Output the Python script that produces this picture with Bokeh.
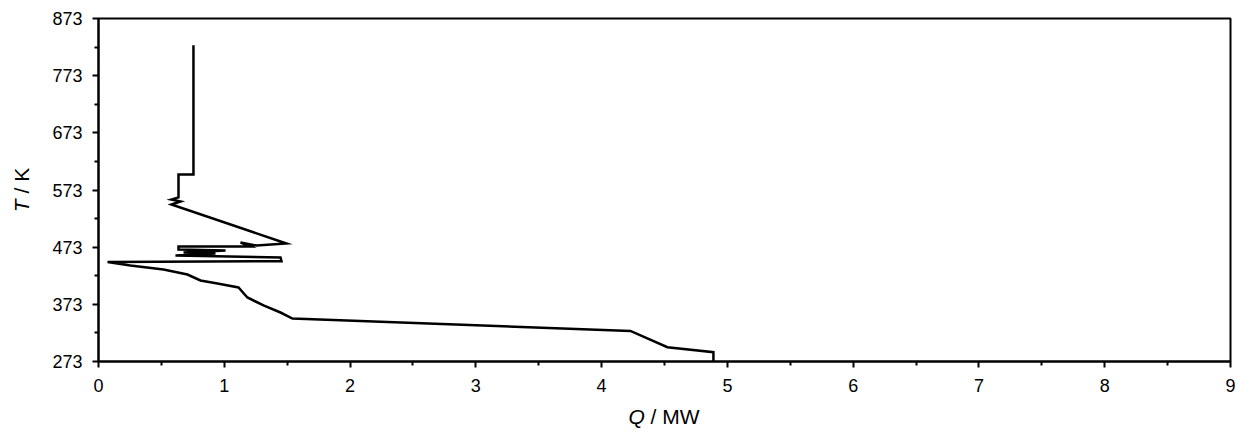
from bokeh.plotting import figure
from bokeh.models import FixedTicker, Range1d, Div
from bokeh.layouts import row, column
from bokeh.embed import file_html
from bokeh.resources import INLINE

# Composite curve: heat flow Q (MW) vs temperature T (K)
Q_MW = [0.755, 0.755, 0.636, 0.636, 0.580, 0.652, 0.580, 1.494, 1.256, 1.129,
        1.208, 0.636, 0.636, 1.010, 0.676, 0.930, 0.612, 1.447, 1.455, 0.072,
        0.254, 0.517, 0.707, 0.811, 0.946, 1.113, 1.184, 1.312, 1.447, 1.542,
        4.229, 4.523, 4.889, 4.889]
T_K = [826.0, 600.0, 600.0, 560.0, 556.4, 552.9, 547.7, 479.4, 475.9, 481.2,
       474.2, 474.2, 468.9, 467.2, 463.7, 461.9, 458.4, 455.0, 448.5, 447.1,
       441.0, 434.0, 425.2, 414.7, 409.5, 402.5, 385.0, 371.0, 358.7, 348.2,
       326.4, 298.0, 289.3, 273.0]

x_major = [0, 1, 2, 3, 4, 5, 6, 7, 8, 9]
x_minor = [0.5, 1.5, 2.5, 3.5, 4.5, 5.5, 6.5, 7.5, 8.5]
y_major = [273, 373, 473, 573, 673, 773, 873]
y_minor = [323, 423, 523, 623, 723, 823]

FONT = "Liberation Sans"

p = figure(frame_width=1132, frame_height=343, output_backend="svg",
           toolbar_location=None, x_range=Range1d(0, 9), y_range=Range1d(273, 873))
p.min_border_left = 58
p.min_border_right = 12
p.min_border_top = 18
p.min_border_bottom = 40
p.margin = 0
p.background_fill_color = "white"
p.border_fill_color = "white"
p.outline_line_color = "black"
p.outline_line_width = 2
p.xgrid.visible = False
p.ygrid.visible = False

p.line(Q_MW, T_K, line_color="black", line_width=2.5, line_join="miter")

p.xaxis.ticker = FixedTicker(ticks=x_major, minor_ticks=x_minor)
p.yaxis.ticker = FixedTicker(ticks=y_major, minor_ticks=y_minor)
for ax in (p.xaxis, p.yaxis):
    ax.axis_line_width = 2
    ax.axis_line_color = "black"
    ax.major_tick_line_width = 2
    ax.minor_tick_line_width = 2
    ax.major_tick_line_color = "black"
    ax.minor_tick_line_color = "black"
    ax.major_tick_out = 6
    ax.major_tick_in = 0
    ax.minor_tick_out = 4
    ax.minor_tick_in = 0
    ax.major_label_text_font = FONT
    ax.major_label_text_font_size = "18px"
    ax.major_label_text_color = "black"
p.xaxis.major_label_standoff = 11
p.yaxis.major_label_standoff = 10

txt_style = ("position:absolute; white-space:nowrap; font-family:'Liberation Sans'; "
             "font-size:21px; line-height:1; color:black;")
ydiv = Div(
    text=f'<div style="{txt_style} left:20.5px; top:190px; '
         'transform: translate(-50%,-50%) rotate(-90deg);"><i>T</i> / K</div>',
    width=40, height=401, margin=0, styles={"overflow": "visible"})
xdiv = Div(
    text=f'<div style="{txt_style} left:664px; top:14.5px; '
         'transform: translate(-50%,-50%);"><i>Q</i> / MW</div>',
    width=1242, height=30, margin=0, styles={"overflow": "visible"})

layout = column(row(ydiv, p, spacing=0, margin=0), xdiv, spacing=0, margin=0)

open("out.html", "w").write(file_html(layout, INLINE))
